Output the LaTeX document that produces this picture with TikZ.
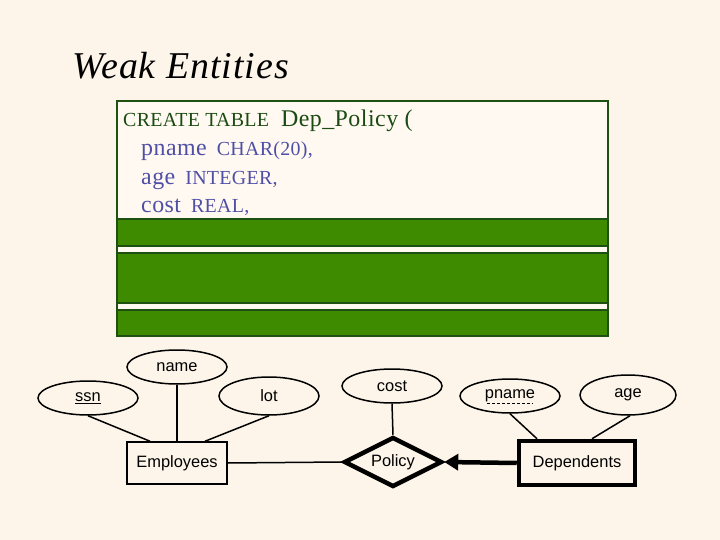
\documentclass[tikz,border=0pt]{standalone}
\usepackage{fontspec}
\setmainfont{Liberation Serif}
\newfontfamily\erfont{Liberation Sans}
\usetikzlibrary{shapes.geometric,arrows.meta}
\definecolor{slidebg}{HTML}{FDF5E9}
\definecolor{boxfill}{HTML}{FFF9F1}
\definecolor{boxline}{HTML}{1E5012}
\definecolor{barfill}{HTML}{3F8B00}
\definecolor{sqlblue}{HTML}{4F4FA6}
\definecolor{sqlgreen}{HTML}{1B4B12}
\newcommand{\sqlkw}[1]{{\fontsize{20}{21}\selectfont\addfontfeatures{LetterSpace=1.5}#1}}
\newcommand{\sqlname}[1]{{\fontsize{24}{25}\selectfont\addfontfeatures{LetterSpace=2}#1}}
\tikzset{
  attr/.style={ellipse,draw,line width=1.5bp,inner sep=0pt,minimum width=100bp,minimum height=34bp,font=\erfont\fontsize{16.5}{18}\selectfont},
  entity/.style={rectangle,draw,line width=1.5bp,inner sep=0pt,minimum width=100bp,minimum height=42bp,font=\erfont\fontsize{16.5}{18}\selectfont},
  weakentity/.style={entity,line width=4.5bp,minimum width=116bp,minimum height=44bp},
  idrel/.style={diamond,draw,line width=4.5bp,inner sep=0pt,aspect=1.9,minimum width=98bp,minimum height=50bp,font=\erfont\fontsize{16.5}{18}\selectfont},
  link/.style={line width=1.5bp},
  sqlline/.style={anchor=base west,inner sep=0pt,text=sqlblue},
  greenbar/.style={fill=barfill,draw=boxline,line width=2bp}
}
\begin{document}
\begin{tikzpicture}[x=1bp,y=-1bp]
\fill[slidebg] (0,0) rectangle (720,540);
\useasboundingbox (0,0) rectangle (720,540);
\node[anchor=base west,inner sep=0pt] (title) at (72,79) {\fontsize{38}{40}\selectfont\itshape\addfontfeatures{LetterSpace=2.6}Weak Entities};
% sql box
\draw[fill=boxfill,draw=boxline,line width=2bp] (117,101) rectangle (608,336);
\node[sqlline,text=sqlgreen] (create) at (123,127) {\sqlkw{CREATE TABLE}\hspace{12bp}\sqlname{Dep\_Policy (}};
\node[sqlline] (pnamecol) at (141,156) {\sqlname{pname}\hspace{10bp}\sqlkw{CHAR(20),}};
\node[sqlline] (agecol) at (141,185) {\sqlname{age}\hspace{10bp}\sqlkw{INTEGER,}};
\node[sqlline] (costcol) at (141,213) {\sqlname{cost}\hspace{10bp}\sqlkw{REAL,}};
\draw[greenbar] (117,219) rectangle (608,246);
\draw[greenbar] (117,253) rectangle (608,303);
\draw[greenbar] (117,310) rectangle (608,336);
% er diagram
\node[attr] (name) at (177,367) {name};
\node[attr] (ssn) at (88,398) {\underline{ssn}};
\node[attr,minimum height=38bp] (lot) at (269,396) {lot};
\node[entity] (emp) at (177,463) {Employees};
\node[attr] (cost) at (392,386) {cost};
\node[idrel] (pol) at (393,462) {Policy};
\node[attr] (pname) at (510,396) {pname};
\node[attr,minimum width=96bp,minimum height=40bp] (age) at (628,395) {age};
\node[weakentity] (dep) at (577,463) {Dependents};
\draw[link,dash pattern=on 3bp off 2bp] ([xshift=-23bp,yshift=-5bp]pname.base) -- ([xshift=23bp,yshift=-5bp]pname.base);
\draw[link] (ssn.south) -- ([xshift=-27bp]emp.north);
\draw[link] (name.south) -- (emp.north);
\draw[link] (lot.south) -- ([xshift=28bp]emp.north);
\draw[link] (emp.east) -- (pol.west);
\draw[link] (cost.south) -- (pol.north);
\draw[link] (pname.south) -- ([xshift=-40bp]dep.north);
\draw[link] ([xshift=2bp]age.south) -- ([xshift=15bp]dep.north);
\draw[line width=4.5bp,-{Triangle[length=14bp,width=16bp]}] (dep.west) -- (pol.east);
\end{tikzpicture}
\end{document}
